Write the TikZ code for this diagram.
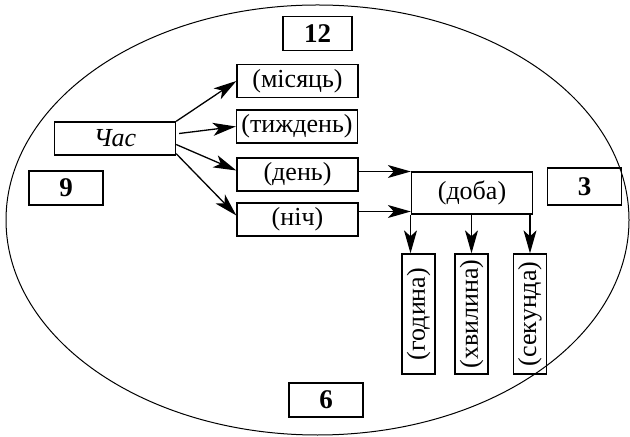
\documentclass[tikz,border=0pt]{standalone}
\usepackage{fontspec}
\setmainfont{Liberation Serif}
\usetikzlibrary{arrows.meta}

\begin{document}
\begin{tikzpicture}[
            x=0.5pt, y=-0.5pt,
            every node/.style={draw, line width=0.65pt, inner sep=0pt, font=\fontsize{13}{15}\selectfont},
            wordbox/.style={minimum width=60.5pt, minimum height=16.5pt},
            numbox/.style={minimum width=37pt, minimum height=17pt, font=\fontsize{13.5}{15}\selectfont\bfseries},
            unitbox/.style={rotate=90, minimum width=60pt, minimum height=16.5pt},
            arr/.style={draw, line width=0.65pt, -{Stealth[length=11.5pt,width=6.5pt,inset=3pt]}}]

            \useasboundingbox (0,0) rectangle (630,437);
            \draw[line width=0.5pt] (317.5,220) ellipse [x radius=311.5, y radius=215];

            % numbers of the clock
            \node[numbox, minimum width=34.5pt] (twelve) at (317.5,33.5) {12};
            \node[numbox] (nine) at (66,188) {9};
            \node[numbox, minimum height=18.5pt] (three) at (584.5,186.5) {3};
            \node[numbox] (six) at (326,400) {6};

            \node[wordbox] (chas) at (115,138.5) {\itshape Час};
            \node[wordbox] (month) at (297.5,81) {(місяць)};
            \node[wordbox] (week) at (297,126.5) {(тиждень)};
            \node[wordbox] (day) at (297.5,174.5) {(день)};
            \node[wordbox] (night) at (297.5,219.5) {(ніч)};
            \node[wordbox, minimum height=21pt] (doba) at (472,193) {(доба)};

            \node[unitbox] (hour) at (418.5,314) {(година)};
            \node[unitbox] (minute) at (471.5,314) {(хвилина)};
            \node[unitbox] (second) at (530,314) {(секунда)};

            \draw[arr] (chas.north east) -- (month.west);
            \draw[arr] ([xshift=1.5pt,yshift=2.5pt]chas.east) -- (week.west);
            \draw[arr] ([yshift=-3pt]chas.east) -- ([yshift=2pt]day.west);
            \draw[arr] ([yshift=1pt]chas.south east) -- ([yshift=2pt]night.west);

            \draw[arr] ([yshift=1.5pt]day.east) -- ([yshift=1.5pt]day.east -| doba.west);
            \draw[arr] ([yshift=4pt]night.east) -- ([yshift=4pt]night.east -| doba.west);

            \foreach \u/\s in {hour/-4pt, minute/0pt, second/0pt}{
                \draw[arr] ([xshift=\s]doba.south -| \u.east) -- ([xshift=\s]\u.east);
            }
        \end{tikzpicture}
\end{document}
